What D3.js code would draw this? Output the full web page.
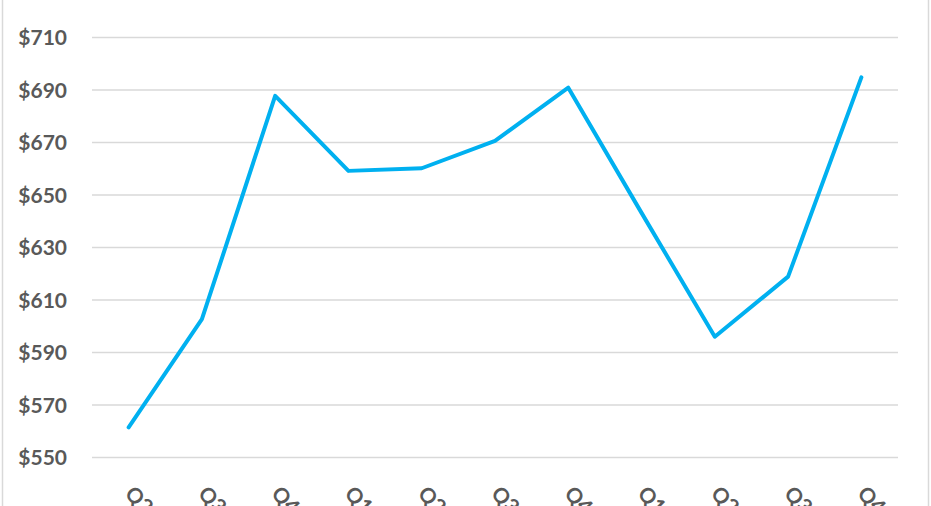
<!DOCTYPE html>
<html>
<head>
<meta charset="utf-8">
<script src="https://cdn.jsdelivr.net/npm/d3@7"></script>
<style>
  html, body { margin: 0; padding: 0; background: #fff; overflow: hidden; }
  svg { display: block; }
</style>
</head>
<body>
<svg id="chart" width="931" height="506"></svg>
<script>
const categories = ["Q2", "Q3", "Q4", "Q1", "Q2", "Q3", "Q4", "Q1", "Q2", "Q3", "Q4"];
const values = [561.3, 602.5, 687.6, 659, 660, 670.4, 690.7, 643, 595.8, 618.7, 694.6];
const yTicks = [550, 570, 590, 610, 630, 650, 670, 690, 710];

const W = 931, H = 506;
const plot = { left: 92, right: 898, top: 37, bottom: 457 };
const svg = d3.select("#chart");

// outer chart border (partially visible)
svg.append("rect")
  .attr("x", 2.5).attr("y", -5)
  .attr("width", 926).attr("height", H + 10)
  .attr("fill", "none").attr("stroke", "#D9D9D9").attr("stroke-width", 1.5);

const idx = categories.map((d, i) => i);
const x = d3.scaleBand().domain(idx).range([plot.left, plot.right]);
const y = d3.scaleLinear().domain([550, 710]).range([plot.bottom, plot.top]);

const font = "Lato, 'Open Sans', 'Liberation Sans', sans-serif";

// y axis with grid lines
const yAxis = d3.axisLeft(y).tickValues(yTicks)
  .tickSize(-(plot.right - plot.left)).tickPadding(25)
  .tickFormat(d => "$" + d);
const gy = svg.append("g").attr("transform", `translate(${plot.left},0)`).call(yAxis);
gy.select(".domain").remove();
gy.selectAll(".tick line").attr("stroke", "#D9D9D9").attr("stroke-width", 1.5);
gy.selectAll(".tick text")
  .attr("fill", "#595959").style("font-family", font)
  .style("font-size", "21px").style("font-weight", "bold")
  .attr("dy", "0.36em");

// x axis labels (rotated, partly cut by the bottom edge as in the original)
const xAxis = d3.axisBottom(x).tickSize(0).tickFormat(i => categories[i]);
const gx = svg.append("g").attr("transform", `translate(0,${plot.bottom})`).call(xAxis);
gx.select(".domain").remove();
gx.selectAll(".tick text")
  .attr("fill", "#595959").style("font-family", font)
  .style("font-size", "21px").style("font-weight", "bold")
  .attr("text-anchor", "start")
  .attr("x", 0).attr("dy", null).attr("y", 0)
  .attr("transform", "translate(-5,38) rotate(45)");

// line
const line = d3.line()
  .x((d, i) => x(i) + x.bandwidth() / 2)
  .y(d => y(d));
svg.append("path")
  .datum(values)
  .attr("d", line)
  .attr("fill", "none")
  .attr("stroke", "#00B0F0")
  .attr("stroke-width", 4)
  .attr("stroke-linejoin", "round")
  .attr("stroke-linecap", "round");
</script>
</body>
</html>
